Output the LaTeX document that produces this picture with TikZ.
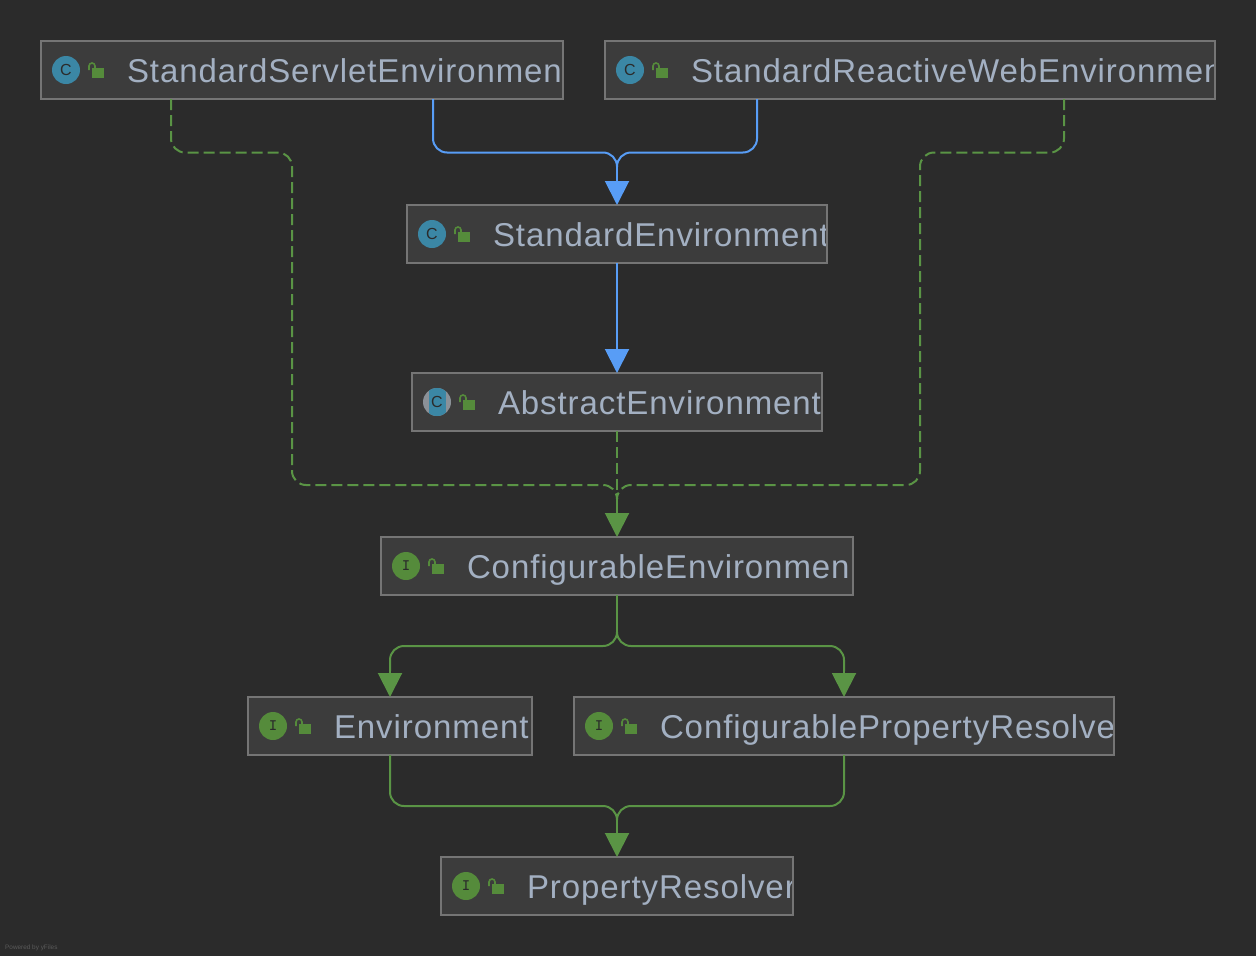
\documentclass[tikz,border=0pt]{standalone}
\usepackage{fontspec}
\setmainfont{Liberation Sans}
\newfontfamily\umlfont[LetterSpace=2.8]{Liberation Sans}
\usetikzlibrary{positioning, arrows.meta}
\definecolor{canvasbg}{HTML}{2B2B2B}
\definecolor{boxfill}{HTML}{3C3C3C}
\definecolor{boxline}{HTML}{757575}
\definecolor{labelgray}{HTML}{A3B0C2}
\definecolor{classblue}{HTML}{3B87A5}
\definecolor{abstractgray}{HTML}{8B9198}
\definecolor{ifacegreen}{HTML}{558B3B}
\definecolor{extendblue}{HTML}{589DF6}
\definecolor{implgreen}{HTML}{5A9445}
\tikzset{
  umlbox/.style={rectangle, draw=boxline, fill=boxfill, line width=2pt, minimum height=58pt,
    inner sep=0pt, outer sep=0pt, path picture={
      \node[anchor=base west, minimum width=0pt, minimum height=0pt, inner sep=0pt, text=labelgray, font=\umlfont\fontsize{33}{33}\selectfont]
        at ([shift={(86pt,-12pt)}]path picture bounding box.west) {#1};}},
  typeicon/.style={circle, minimum size=28pt, inner sep=0pt, outer sep=0pt},
  classicon/.style={typeicon, fill=classblue, text=canvasbg, font=\fontsize{16}{16}\selectfont},
  abstracticon/.style={classicon, fill=abstractgray, path picture={
      \fill[classblue] ([xshift=-8.5pt]path picture bounding box.north) rectangle ([xshift=8.5pt]path picture bounding box.south);}},
  ifaceicon/.style={typeicon, fill=ifacegreen, text=canvasbg, font=\ttfamily\bfseries\fontsize{16}{16}\selectfont},
  lockicon/.pic={
    \fill[ifacegreen] (-1,-2) rectangle (11,8);
    \draw[ifacegreen, line width=1.6pt] (-4,0) -- (-4,-4) arc[start angle=180, end angle=360, radius=3] -- (2,-2);
  },
  extendline/.style={extendblue, line width=2pt, rounded corners=14pt},
  extendtip/.style={extendblue, line width=2pt, -{Triangle[length=24pt, width=24pt]}},
  reallyline/.style={implgreen, line width=2pt, rounded corners=14pt},
  reallytip/.style={implgreen, line width=2pt, -{Triangle[length=24pt, width=24pt]}},
  dashline/.style={implgreen, line width=2pt, dash pattern=on 11pt off 5pt, rounded corners=14pt},
}
\begin{document}
\begin{tikzpicture}[x=1pt, y=-1pt]
  \fill[canvasbg] (0,0) rectangle (1256,956);
  \useasboundingbox (0,0) rectangle (1256,956);

  % Classes
  \node[umlbox={StandardServletEnvironmen}, minimum width=522pt] (servlet) at (302,70) {};
  \node[umlbox={StandardReactiveWebEnvironmen}, minimum width=610pt] (reactive) at (910,70) {};
  \node[umlbox={StandardEnvironment}, minimum width=420pt] (standard) at (617,234) {};
  \node[umlbox={AbstractEnvironment}, minimum width=410pt] (abstract) at (617,402) {};

  % Interfaces
  \node[umlbox={ConfigurableEnvironmen}, minimum width=472pt] (configurable) at (617,566) {};
  \node[umlbox={Environment}, minimum width=284pt] (environment) at (390,726) {};
  \node[umlbox={ConfigurablePropertyResolve}, minimum width=540pt] (propconfig) at (844,726) {};
  \node[umlbox={PropertyResolver}, minimum width=352pt] (resolver) at (617,886) {};

  % Type icons
  \node[classicon, right=11pt of servlet.west] (servletC) {C};
  \node[classicon, right=11pt of reactive.west] (reactiveC) {C};
  \node[classicon, right=11pt of standard.west] (standardC) {C};
  \node[abstracticon, right=11pt of abstract.west] (abstractC) {C};
  \node[ifaceicon, right=11pt of configurable.west] (configurableI) {I};
  \node[ifaceicon, right=11pt of environment.west] (environmentI) {I};
  \node[ifaceicon, right=11pt of propconfig.west] (propconfigI) {I};
  \node[ifaceicon, right=11pt of resolver.west] (resolverI) {I};

  % Locks
  \foreach \boxname in {servlet, reactive, standard, abstract, configurable, environment, propconfig, resolver}
    \pic at ([xshift=52pt]\boxname.west) {lockicon};

  % Merge points
  \coordinate (standardIn) at (617,166);
  \coordinate (configurableIn) at (617,498);
  \coordinate (environmentOut) at (617,632);
  \coordinate (resolverIn) at (617,820);

  % Extends
  \draw[extendline] ([xshift=131pt]servlet.south) |- (617,152.5) -- (standardIn);
  \draw[extendline] ([xshift=-153pt]reactive.south) |- (617,152.5) -- (standardIn);
  \draw[extendtip] (standardIn) -- (standard.north);
  \draw[extendtip] (standard.south) -- (abstract.north);

  % Implements
  \draw[dashline] ([xshift=-131pt]servlet.south) |- (292,152.5) -- (292,485) -- (617,485) -- (configurableIn);
  \draw[dashline] ([xshift=154pt]reactive.south) |- (920,152.5) -- (920,485) -- (617,485) -- (configurableIn);
  \draw[dashline] (abstract.south) -- (configurableIn);
  \draw[reallytip] (configurableIn) -- (configurable.north);

  % Interface inheritance
  \draw[reallyline] (configurable.south) -- (environmentOut);
  \draw[reallyline] (environmentOut) -- (617,646) -| ([yshift=26pt]environment.north);
  \draw[reallyline] (environmentOut) -- (617,646) -| ([yshift=26pt]propconfig.north);
  \draw[reallytip] ([yshift=26pt]environment.north) -- (environment.north);
  \draw[reallytip] ([yshift=26pt]propconfig.north) -- (propconfig.north);
  \draw[reallyline] (environment.south) |- (617,806) -- (resolverIn);
  \draw[reallyline] (propconfig.south) |- (617,806) -- (resolverIn);
  \draw[reallytip] (resolverIn) -- (resolver.north);

  \node[anchor=west, inner sep=0pt, text=gray!55!canvasbg, font=\fontsize{6.4}{6.4}\selectfont] (poweredby) at (5,948) {Powered by yFiles};
\end{tikzpicture}
\end{document}
